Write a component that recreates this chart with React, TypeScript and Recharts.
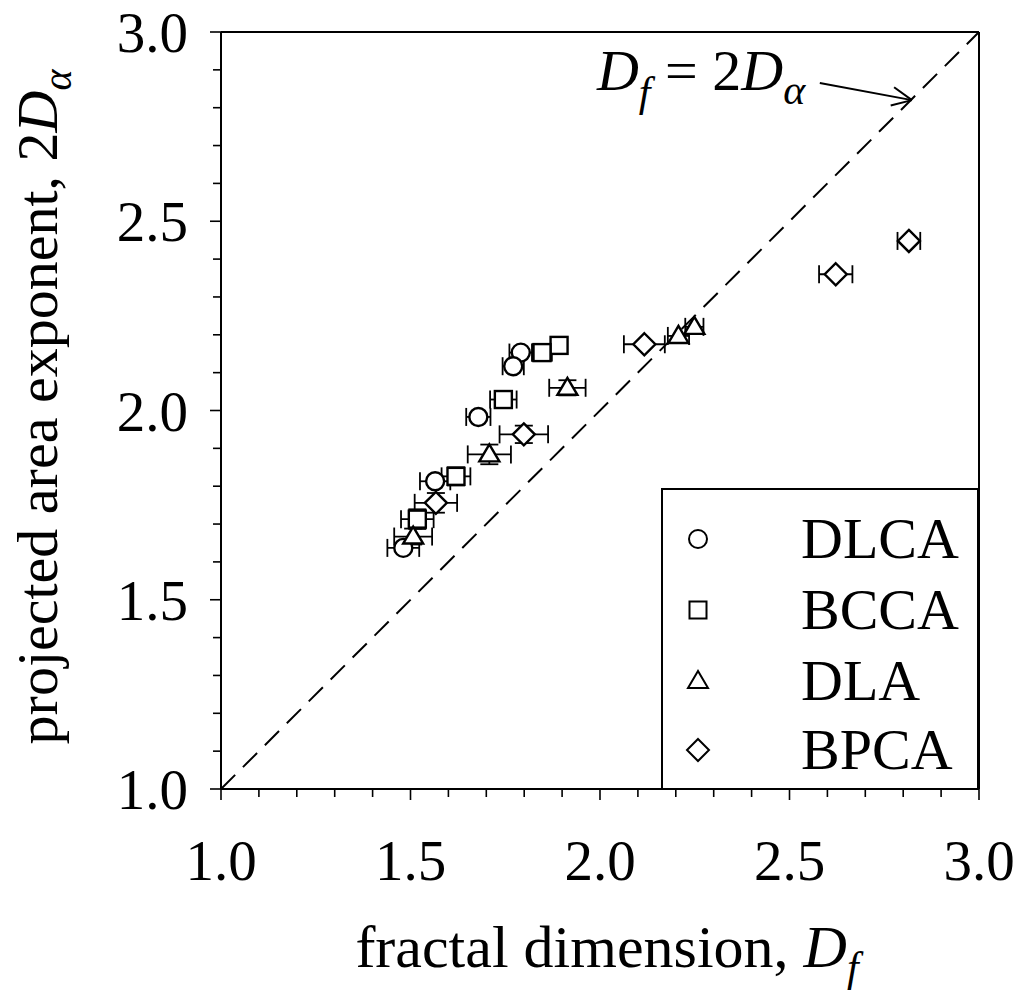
import React from 'react';
import {
  ScatterChart,
  Scatter,
  XAxis,
  YAxis,
  ErrorBar,
  ReferenceLine,
  ReferenceDot,
  Legend,
} from 'recharts';

// ---------- data ----------
const dlcaX = [1.791, 1.771, 1.679, 1.565, 1.481];
const dlcaY = [2.153, 2.117, 1.983, 1.813, 1.637];
const dlcaXErr = [0.03, 0.028, 0.032, 0.04, 0.042];
const dlcaYErr = [null, null, null, null, null];

const bccaX = [1.892, 1.847, 1.745, 1.62, 1.518];
const bccaY = [2.172, 2.153, 2.029, 1.826, 1.713];
const bccaXErr = [0.02, 0.026, 0.035, 0.038, 0.043];
const bccaYErr = [0.02, null, null, 0.024, 0.026];

const dlaX = [2.249, 2.207, 1.914, 1.708, 1.507];
const dlaY = [2.221, 2.197, 2.06, 1.884, 1.667];
const dlaXErr = [0.024, 0.028, 0.048, 0.057, 0.05];
const dlaYErr = [null, null, 0.02, 0.026, 0.021];

const bpcaX = [2.815, 2.622, 2.117, 1.799, 1.567];
const bpcaY = [2.448, 2.36, 2.175, 1.937, 1.756];
const bpcaXErr = [0.03, 0.044, 0.054, 0.064, 0.056];
const bpcaYErr = [null, null, null, 0.023, 0.026];

const seriesNames = ['DLCA', 'BCCA', 'DLA', 'BPCA'];

const axisTicks = [
  1.0, 1.1, 1.2, 1.3, 1.4, 1.5, 1.6, 1.7, 1.8, 1.9, 2.0, 2.1, 2.2, 2.3, 2.4, 2.5,
  2.6, 2.7, 2.8, 2.9, 3.0,
];
const majorTickLabels = ['1.0', '1.5', '2.0', '2.5', '3.0'];

const diagonal = [
  { x: 1, y: 1 },
  { x: 3, y: 3 },
];

// ---------- helpers ----------
const build = (xs: number[], ys: number[], xe: number[], ye: (number | null)[]) =>
  xs.map((x, i) => ({ x, y: ys[i], xErr: xe[i], yErr: ye[i] }));

const dlcaData = build(dlcaX, dlcaY, dlcaXErr, dlcaYErr);
const bccaData = build(bccaX, bccaY, bccaXErr, bccaYErr);
const dlaData = build(dlaX, dlaY, dlaXErr, dlaYErr);
const bpcaData = build(bpcaX, bpcaY, bpcaXErr, bpcaYErr);

const FONT = '"Liberation Serif", "Times New Roman", serif';
const BLACK = '#000';

const labelFor = (v: number) => {
  const s = v.toFixed(1);
  return majorTickLabels.includes(s) ? s : null;
};

const MarkerShape = ({ kind, cx, cy, sw }: { kind: string; cx: number; cy: number; sw: number }) => {
  const common = { fill: '#fff', stroke: BLACK, strokeWidth: sw };
  if (kind === 'circle') return <circle cx={cx} cy={cy} r={9} {...common} />;
  if (kind === 'square')
    return <rect x={cx - 8.5} y={cy - 8.5} width={17} height={17} {...common} />;
  if (kind === 'triangle')
    return (
      <polygon
        points={`${cx},${cy - 10} ${cx - 10},${cy + 7} ${cx + 10},${cy + 7}`}
        {...common}
      />
    );
  return (
    <polygon
      points={`${cx},${cy - 11} ${cx + 11},${cy} ${cx},${cy + 11} ${cx - 11},${cy}`}
      {...common}
    />
  );
};

const kinds = ['circle', 'square', 'triangle', 'diamond'];

const shapeOf = (kind: string) => (props: any) =>
  <MarkerShape kind={kind} cx={props.cx} cy={props.cy} sw={2.4} />;

const XTick = (props: any) => {
  const { x, y, payload } = props;
  const lab = labelFor(payload.value);
  return (
    <g>
      <line x1={x} y1={y} x2={x} y2={y + (lab ? 11 : 8)} stroke={BLACK} strokeWidth={1.6} />
      {lab && (
        <text x={x} y={y + 91} textAnchor="middle" fontFamily={FONT} fontSize={57} fill={BLACK}>
          {lab}
        </text>
      )}
    </g>
  );
};

const YTick = (props: any) => {
  const { x, y, payload } = props;
  const lab = labelFor(payload.value);
  return (
    <g>
      <line x1={x} y1={y} x2={x - (lab ? 11 : 8)} y2={y} stroke={BLACK} strokeWidth={1.6} />
      {lab && (
        <text x={x - 33} y={y + 20} textAnchor="end" fontFamily={FONT} fontSize={57} fill={BLACK}>
          {lab}
        </text>
      )}
    </g>
  );
};

const LegendBox = () => {
  const rows = [51, 122, 193, 262];
  return (
    <div
      style={{
        position: 'relative',
        width: 318,
        height: 302,
        boxSizing: 'border-box',
        border: '2px solid #000',
        background: '#fff',
      }}
    >
      {seriesNames.map((name, i) => (
        <React.Fragment key={name}>
          <svg
            width={30}
            height={30}
            style={{ position: 'absolute', left: 37 - 2 - 15, top: rows[i] - 2 - 15 }}
          >
            <MarkerShape kind={kinds[i]} cx={15} cy={15} sw={2} />
          </svg>
          <div
            style={{
              position: 'absolute',
              left: 140 - 2,
              top: rows[i] - 2 - 30,
              fontFamily: FONT,
              fontSize: 58,
              lineHeight: '60px',
              color: BLACK,
              whiteSpace: 'nowrap',
            }}
          >
            {name}
          </div>
        </React.Fragment>
      ))}
    </div>
  );
};

const errBars = [
  <ErrorBar key="ex" dataKey="xErr" direction="x" width={9} stroke={BLACK} strokeWidth={1.8} />,
  <ErrorBar key="ey" dataKey="yErr" direction="y" width={9} stroke={BLACK} strokeWidth={1.8} />,
];

export default function App() {
  return (
    <div style={{ width: 1008, height: 986 }}>
      <ScatterChart
        width={1008}
        height={986}
        margin={{ top: 24, right: 37, bottom: 105, left: 113 }}
      >
        <XAxis
          type="number"
          dataKey="x"
          domain={[1, 3]}
          ticks={axisTicks}
          interval={0}
          allowDataOverflow
          height={100}
          tickSize={0}
          tickMargin={0}
          tickLine={false}
          tick={<XTick />}
          axisLine={{ stroke: BLACK, strokeWidth: 2 }}
          label={{
            content: () => (
              <text x={599} y={959} textAnchor="middle" fontFamily={FONT} fontSize={60} fill={BLACK}>
                fractal dimension,{' '}
                <tspan fontStyle="italic">D</tspan>
                <tspan fontStyle="italic" fontSize={42} dy={14}>
                  f
                </tspan>
              </text>
            ),
          }}
        />
        <YAxis
          type="number"
          dataKey="y"
          domain={[1, 3]}
          ticks={axisTicks}
          interval={0}
          allowDataOverflow
          width={100}
          tickSize={0}
          tickMargin={0}
          tickLine={false}
          tick={<YTick />}
          axisLine={{ stroke: BLACK, strokeWidth: 2 }}
          label={{
            content: () => (
              <text
                x={49}
                y={399}
                transform="rotate(-90 49 399)"
                textAnchor="middle"
                fontFamily={FONT}
                fontSize={58}
                fill={BLACK}
              >
                projected area exponent, 2<tspan fontStyle="italic">D</tspan>
                <tspan fontStyle="italic" fontSize={40} dy={14}>
                  α
                </tspan>
              </text>
            ),
          }}
        />
        {/* frame */}
        <ReferenceLine y={3} stroke={BLACK} strokeWidth={2} />
        <ReferenceLine x={3} stroke={BLACK} strokeWidth={2} />
        {/* D_f = 2D_alpha line */}
        <ReferenceLine
          segment={diagonal}
          stroke={BLACK}
          strokeWidth={2}
          strokeDasharray="20 11"
        />
        {/* annotation arrow */}
        <ReferenceLine
          segment={[
            { x: 2.58, y: 2.865 },
            { x: 2.823, y: 2.82 },
          ]}
          stroke={BLACK}
          strokeWidth={2}
        />
        <ReferenceLine
          segment={[
            { x: 2.823, y: 2.82 },
            { x: 2.767, y: 2.806 },
          ]}
          stroke={BLACK}
          strokeWidth={2}
        />
        <ReferenceLine
          segment={[
            { x: 2.823, y: 2.82 },
            { x: 2.776, y: 2.854 },
          ]}
          stroke={BLACK}
          strokeWidth={2}
        />
        <ReferenceDot
          x={1.992}
          y={2.847}
          r={0}
          fill="none"
          stroke="none"
          label={{
            content: (p: any) => {
              const vb = p.viewBox || { x: 589, y: 83 };
              return (
                <text x={vb.x} y={vb.y} fontFamily={FONT} fontSize={58} fill={BLACK}>
                  <tspan fontStyle="italic">D</tspan>
                  <tspan fontStyle="italic" fontSize={42} dy={16}>
                    f
                  </tspan>
                  <tspan dy={-16}>{' = 2'}</tspan>
                  <tspan fontStyle="italic">D</tspan>
                  <tspan fontStyle="italic" fontSize={42} dy={14}>
                    α
                  </tspan>
                </text>
              );
            },
          }}
        />
        <Scatter name="DLCA" data={dlcaData} shape={shapeOf('circle')} isAnimationActive={false}>
          {errBars}
        </Scatter>
        <Scatter name="BCCA" data={bccaData} shape={shapeOf('square')} isAnimationActive={false}>
          {errBars}
        </Scatter>
        <Scatter name="DLA" data={dlaData} shape={shapeOf('triangle')} isAnimationActive={false}>
          {errBars}
        </Scatter>
        <Scatter name="BPCA" data={bpcaData} shape={shapeOf('diamond')} isAnimationActive={false}>
          {errBars}
        </Scatter>
        <Legend
          layout="horizontal"
          verticalAlign="middle"
          align="center"
          wrapperStyle={{ left: 653, top: 480, width: 318, height: 302 }}
          content={() => <LegendBox />}
        />
      </ScatterChart>
    </div>
  );
}
